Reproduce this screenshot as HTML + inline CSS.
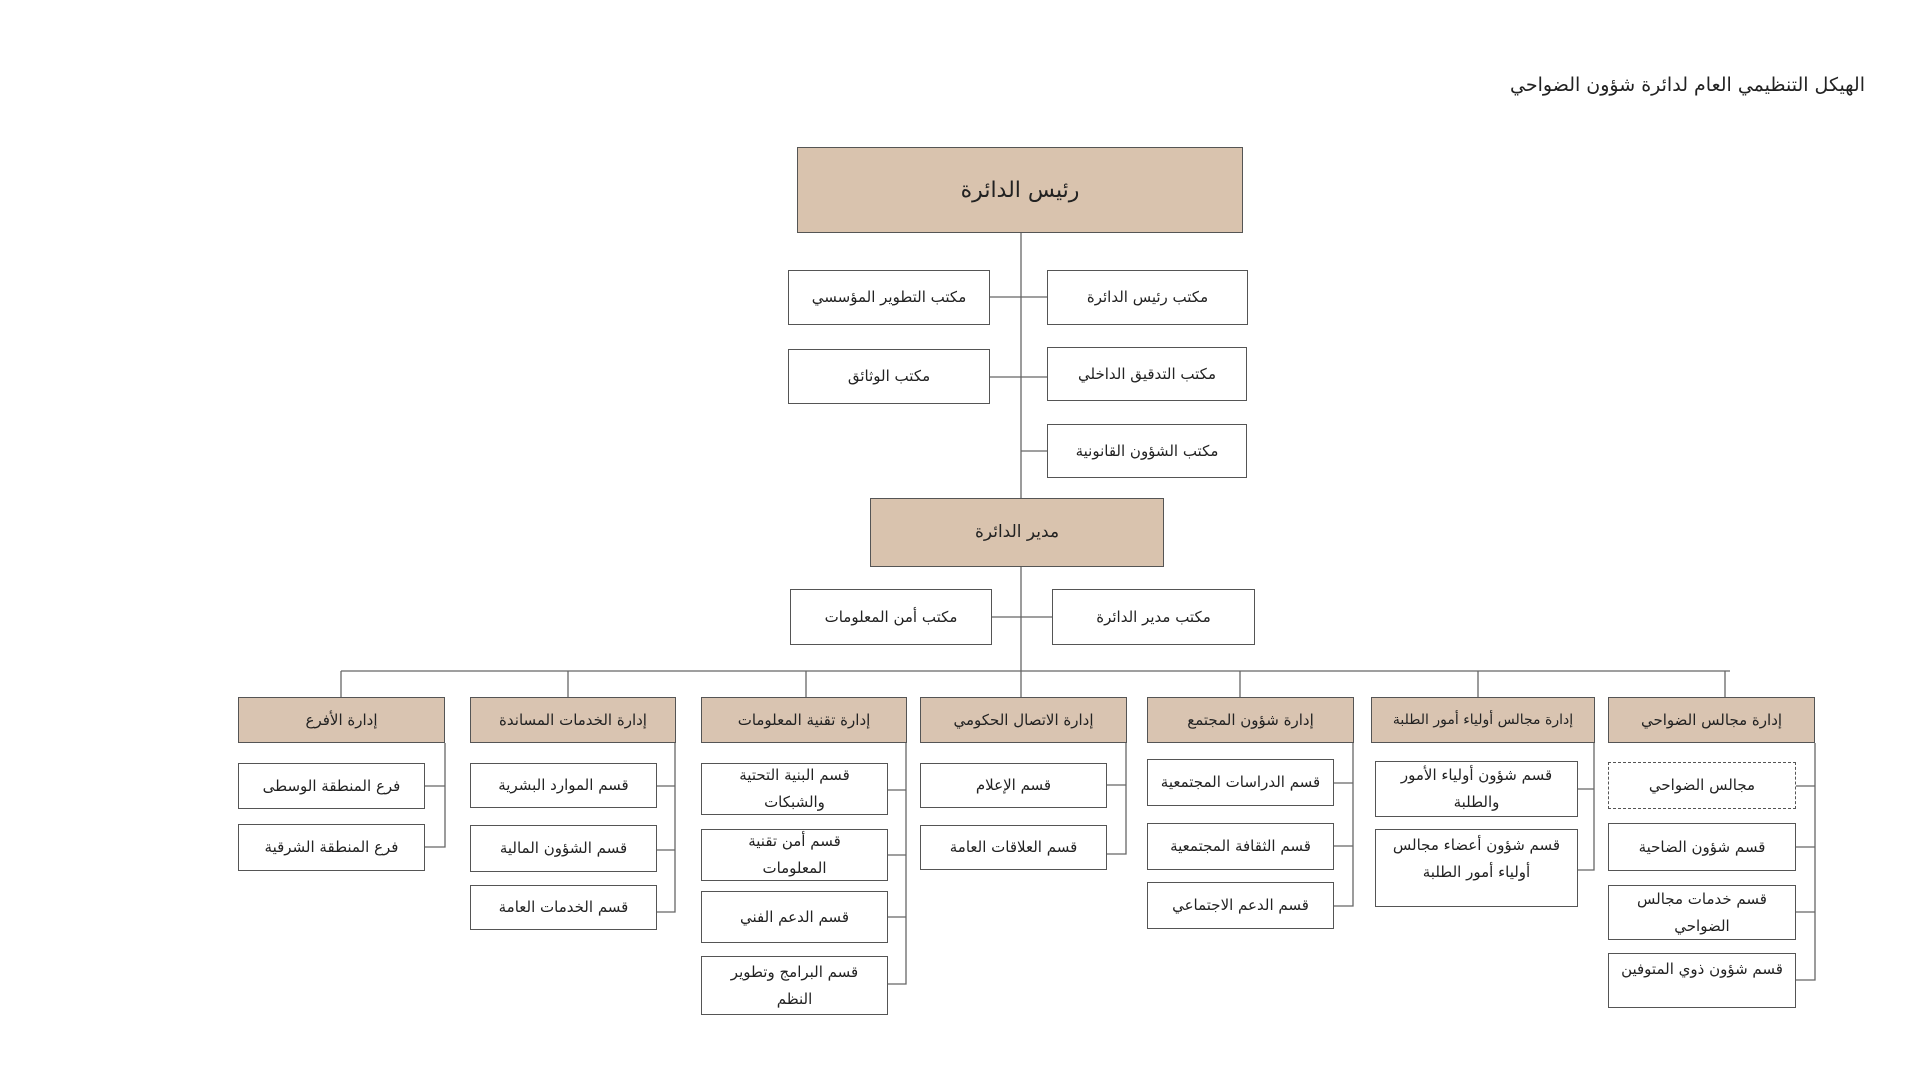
<!DOCTYPE html>
<html><head><meta charset="utf-8"><style>
body{margin:0;width:1920px;height:1079px;background:#fff;position:relative;overflow:hidden;font-family:"DejaVu Sans",sans-serif;direction:rtl;color:#222}
.b{position:absolute;box-sizing:border-box;border:1.5px solid #555;background:#fff;display:flex;align-items:center;justify-content:center;text-align:center;font-size:15px;line-height:27px}
.d{background:#d9c4b1;font-size:15px}
.m{background:#d9c3ae}
.t{position:absolute;font-size:19px;left:1440px;top:74px;width:425px;text-align:right}
svg{position:absolute;left:0;top:0}
</style></head><body>
<svg width="1920" height="1079"><g stroke="#666" stroke-width="1.3" fill="none">
<line x1="1021" y1="233" x2="1021" y2="498"/>
<line x1="990" y1="297" x2="1047" y2="297"/>
<line x1="990" y1="377" x2="1047" y2="377"/>
<line x1="1021" y1="451" x2="1047" y2="451"/>
<line x1="1021" y1="567" x2="1021" y2="671"/>
<line x1="992" y1="617" x2="1052" y2="617"/>
<line x1="341" y1="671" x2="1730" y2="671"/>
<line x1="341" y1="671" x2="341" y2="697"/>
<line x1="568" y1="671" x2="568" y2="697"/>
<line x1="806" y1="671" x2="806" y2="697"/>
<line x1="1021" y1="671" x2="1021" y2="697"/>
<line x1="1240" y1="671" x2="1240" y2="697"/>
<line x1="1478" y1="671" x2="1478" y2="697"/>
<line x1="1725" y1="671" x2="1725" y2="697"/>
<path d="M445 743V847H425M445 786H425"/>
<path d="M675 743V912H657M675 786H657M675 850H657"/>
<path d="M906 743V984H888M906 790H888M906 855H888M906 917H888"/>
<path d="M1126 743V854H1107M1126 785H1107"/>
<path d="M1353 743V906H1334M1353 783H1334M1353 846H1334"/>
<path d="M1594 743V870H1578M1594 789H1578"/>
<path d="M1815 743V980H1796M1815 786H1796M1815 847H1796M1815 912H1796"/>
</g></svg>
<div class="t">الهيكل التنظيمي العام لدائرة شؤون الضواحي</div>
<div class="b m" style="left:797px;top:147px;width:446px;height:86px;font-size:22px">رئيس الدائرة</div>
<div class="b" style="left:788px;top:270px;width:202px;height:55px">مكتب التطوير المؤسسي</div>
<div class="b" style="left:1047px;top:270px;width:201px;height:55px">مكتب رئيس الدائرة</div>
<div class="b" style="left:788px;top:349px;width:202px;height:55px">مكتب الوثائق</div>
<div class="b" style="left:1047px;top:347px;width:200px;height:54px">مكتب التدقيق الداخلي</div>
<div class="b" style="left:1047px;top:424px;width:200px;height:54px">مكتب الشؤون القانونية</div>
<div class="b m" style="left:870px;top:498px;width:294px;height:69px;font-size:17px">مدير الدائرة</div>
<div class="b" style="left:790px;top:589px;width:202px;height:56px">مكتب أمن المعلومات</div>
<div class="b" style="left:1052px;top:589px;width:203px;height:56px">مكتب مدير الدائرة</div>

<div class="b d" style="left:238px;top:697px;width:207px;height:46px">إدارة الأفرع</div>
<div class="b d" style="left:470px;top:697px;width:206px;height:46px">إدارة الخدمات المساندة</div>
<div class="b d" style="left:701px;top:697px;width:206px;height:46px">إدارة تقنية المعلومات</div>
<div class="b d" style="left:920px;top:697px;width:207px;height:46px">إدارة الاتصال الحكومي</div>
<div class="b d" style="left:1147px;top:697px;width:207px;height:46px">إدارة شؤون المجتمع</div>
<div class="b d" style="left:1371px;top:697px;width:224px;height:46px;font-size:14px">إدارة مجالس أولياء أمور الطلبة</div>
<div class="b d" style="left:1608px;top:697px;width:207px;height:46px">إدارة مجالس الضواحي</div>

<div class="b" style="left:238px;top:763px;width:187px;height:46px">فرع المنطقة الوسطى</div>
<div class="b" style="left:238px;top:824px;width:187px;height:47px">فرع المنطقة الشرقية</div>

<div class="b" style="left:470px;top:763px;width:187px;height:45px">قسم الموارد البشرية</div>
<div class="b" style="left:470px;top:825px;width:187px;height:47px">قسم الشؤون المالية</div>
<div class="b" style="left:470px;top:885px;width:187px;height:45px">قسم الخدمات العامة</div>

<div class="b" style="left:701px;top:763px;width:187px;height:52px">قسم البنية التحتية<br>والشبكات</div>
<div class="b" style="left:701px;top:829px;width:187px;height:52px">قسم أمن تقنية<br>المعلومات</div>
<div class="b" style="left:701px;top:891px;width:187px;height:52px">قسم الدعم الفني</div>
<div class="b" style="left:701px;top:956px;width:187px;height:59px">قسم البرامج وتطوير<br>النظم</div>

<div class="b" style="left:920px;top:763px;width:187px;height:45px">قسم الإعلام</div>
<div class="b" style="left:920px;top:825px;width:187px;height:45px">قسم العلاقات العامة</div>

<div class="b" style="left:1147px;top:759px;width:187px;height:47px">قسم الدراسات المجتمعية</div>
<div class="b" style="left:1147px;top:823px;width:187px;height:47px">قسم الثقافة المجتمعية</div>
<div class="b" style="left:1147px;top:882px;width:187px;height:47px">قسم الدعم الاجتماعي</div>

<div class="b" style="left:1375px;top:761px;width:203px;height:56px">قسم شؤون أولياء الأمور<br>والطلبة</div>
<div class="b" style="left:1375px;top:829px;width:203px;height:78px;align-items:flex-start;padding-top:2px">قسم شؤون أعضاء مجالس<br>أولياء أمور الطلبة</div>

<div class="b" style="left:1608px;top:762px;width:188px;height:47px;border-style:dashed">مجالس الضواحي</div>
<div class="b" style="left:1608px;top:823px;width:188px;height:48px">قسم شؤون الضاحية</div>
<div class="b" style="left:1608px;top:885px;width:188px;height:55px">قسم خدمات مجالس<br>الضواحي</div>
<div class="b" style="left:1608px;top:953px;width:188px;height:55px;align-items:flex-start;padding-top:2px">قسم شؤون ذوي المتوفين</div>
</body></html>
